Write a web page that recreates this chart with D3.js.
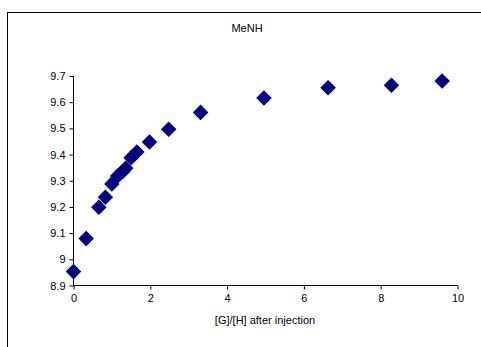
<!DOCTYPE html>
<html>
<head>
<meta charset="utf-8">
<script src="https://cdn.jsdelivr.net/npm/d3@7"></script>
<style>
  body { margin: 0; background: #fff; }
  text { font-family: "Liberation Sans", Arial, sans-serif; fill: #000; }
</style>
</head>
<body>
<div id="chart"></div>
<script>
const width = 481, height = 347;

// data
const ratio = [0, 0.33, 0.66, 0.83, 1.0, 1.15, 1.28, 1.36, 1.5, 1.65, 1.98, 2.48, 3.31, 4.96, 6.63, 8.28, 9.6];
const shift = [8.953, 9.079, 9.199, 9.237, 9.288, 9.318, 9.335, 9.348, 9.388, 9.41, 9.448, 9.497, 9.561, 9.616, 9.655, 9.665, 9.681];
const xTicks = [0, 2, 4, 6, 8, 10];
const yTicks = [8.9, 9, 9.1, 9.2, 9.3, 9.4, 9.5, 9.6, 9.7];

const svg = d3.select('#chart').append("svg")
    .attr("width", width)
    .attr("height", height);

// outer chart frame (runs off the right and bottom edge)
svg.append("rect")
    .attr("x", 7.5).attr("y", 12.5)
    .attr("width", 500).attr("height", 400)
    .attr("fill", "none")
    .attr("stroke", "#000")
    .attr("stroke-width", 1);

const x = d3.scaleLinear().domain([0, 10]).range([73.5, 457.5]);
const y = d3.scaleLinear().domain([8.9, 9.7]).range([285.5, 76]);

const xAxis = svg.append("g")
    .attr("transform", "translate(0," + y(8.9) + ")")
    .call(d3.axisBottom(x).tickValues(xTicks).tickSize(4).tickPadding(5).tickFormat(d3.format("d")));

const yAxis = svg.append("g")
    .attr("transform", "translate(" + x(0) + ",0)")
    .call(d3.axisLeft(y).tickValues(yTicks).tickSize(4).tickPadding(4).tickFormat(function(d) { return d3.format("")(+d.toFixed(1)); }));

[xAxis, yAxis].forEach(function(g) {
    g.select(".domain").attr("stroke", "#000");
    g.selectAll(".tick line").attr("stroke", "#000");
    g.selectAll("text").attr("font-size", "11px").attr("fill", "#000")
        .style("font-family", '"Liberation Sans", Arial, sans-serif');
});
xAxis.select(".domain").attr("d", "M" + x(0) + ",0H" + x(10));
yAxis.select(".domain").attr("d", "M0," + y(9.7) + "V" + y(8.9));

// markers: navy diamonds
svg.append("g").selectAll("path")
    .data(ratio)
    .enter().append("path")
    .attr("transform", function(d, i) { return "translate(" + x(d) + "," + y(shift[i]) + ") rotate(45)"; })
    .attr("d", "M-5.5,-5.5h11v11h-11z")
    .attr("fill", "#000080");

svg.append("text")
    .attr("x", 247).attr("y", 32)
    .attr("text-anchor", "middle")
    .attr("font-size", "11px")
    .text("MeNH");

svg.append("text")
    .attr("x", 265).attr("y", 324)
    .attr("text-anchor", "middle")
    .attr("font-size", "11px")
    .text("[G]/[H] after injection");
</script>
</body>
</html>
